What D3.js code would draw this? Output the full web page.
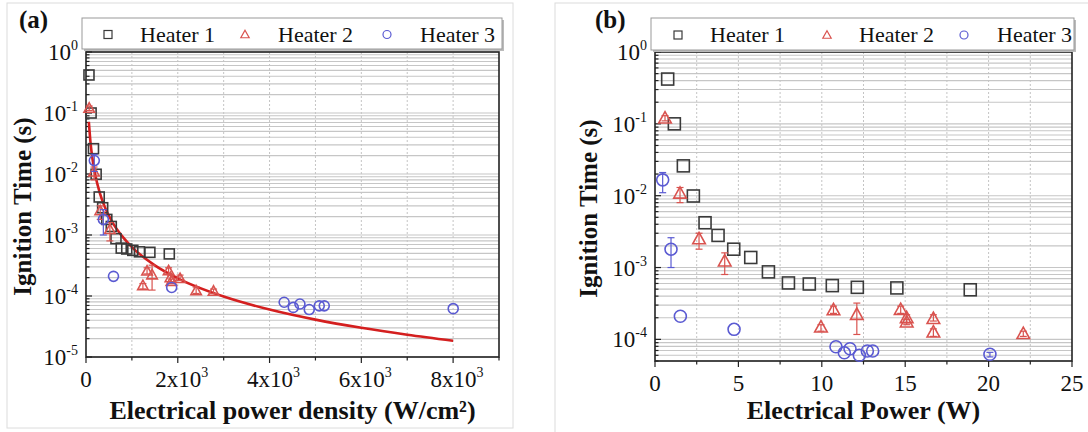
<!DOCTYPE html>
<html><head><meta charset="utf-8">
<script src="https://cdn.jsdelivr.net/npm/d3@7"></script>
<style>
body{margin:0;background:#fff}
svg{display:block}
text{font-family:"Liberation Serif","Times New Roman",serif;fill:#111}
</style>
</head><body>
<svg id="c" width="1088" height="432"></svg>
<script>
// ---------- DATA ----------
const seriesNames = ["Heater 1", "Heater 2", "Heater 3"];

// Panel (a): electrical power density (W/cm2) vs ignition time (s)
const densityH1 = [65, 111, 163, 221, 288, 363, 453, 551, 653, 768, 888, 1020, 1165, 1392, 1815];
const timeAH1   = [0.42, 0.10, 0.026, 0.0099, 0.0042, 0.0028, 0.0018, 0.00138, 0.00087, 0.00061, 0.00059, 0.00056, 0.00053, 0.00052, 0.00049];
const densityH2 = [70, 175, 310, 520, 1240, 1330, 1440, 1800, 1840, 1860, 2050, 2400, 2780];
const timeAH2   = [0.12, 0.0108, 0.0025, 0.00123, 0.000148, 0.000257, 0.000222, 0.00026, 0.0002, 0.000174, 0.000194, 0.000122, 0.00012];
const errLoAH2  = [0.11, 0.008, 0.0018, 0.0008, 0.00013, 0.00023, 0.000125, 0.00023, 0.00017, 0.00016, 0.00018, 0.00011, 0.00011];
const errHiAH2  = [0.13, 0.013, 0.0030, 0.0016, 0.00016, 0.00029, 0.00032, 0.00029, 0.00022, 0.00019, 0.00022, 0.00014, 0.00013];
const densityH3 = [181, 378, 599, 1867, 4318, 4517, 4662, 4865, 5083, 5192, 8002];
const timeAH3   = [0.0166, 0.0018, 0.00021, 0.000138, 0.000079, 0.000065, 0.000074, 0.00006, 0.000069, 0.000069, 0.000062];
const errLoAH3  = [0.011, 0.001, 0.00021, 0.000138, 0.000079, 0.000065, 0.000074, 0.00006, 0.000069, 0.000069, 0.000062];
const errHiAH3  = [0.021, 0.0026, 0.00021, 0.000138, 0.000079, 0.000065, 0.000074, 0.00006, 0.000069, 0.000069, 0.000062];
// fitted curve in panel (a)
const fitDensity = [62, 100, 150, 200, 300, 400, 600, 800, 1000, 1500, 2000, 3000, 4000, 5000, 6000, 7000, 8000];
const fitTime    = [0.0716, 0.0318, 0.016, 0.00977, 0.00491, 0.0030, 0.00151, 0.00093, 0.000634, 0.000318, 0.000195, 0.000098, 0.00006, 0.000041, 0.0000301, 0.0000232, 0.0000185];

// Panel (b): electrical power (W) vs ignition time (s)
const powerH1 = [0.76, 1.16, 1.7, 2.3, 3.0, 3.78, 4.72, 5.74, 6.8, 8.0, 9.25, 10.63, 12.13, 14.5, 18.9];
const timeH1  = [0.42, 0.10, 0.026, 0.0099, 0.0042, 0.0028, 0.0018, 0.00138, 0.00087, 0.00061, 0.00059, 0.00056, 0.00053, 0.00052, 0.00049];

const powerH2 = [0.6, 1.5, 2.64, 4.18, 9.95, 10.7, 12.1, 14.73, 15.09, 15.09, 16.69, 16.69, 22.08];
const timeH2  = [0.12, 0.0108, 0.0025, 0.00123, 0.000148, 0.000257, 0.000222, 0.00026, 0.0002, 0.000174, 0.000194, 0.000126, 0.00012];
const errLoH2 = [0.11, 0.008, 0.0018, 0.0008, 0.00013, 0.00023, 0.000117, 0.00023, 0.00017, 0.00016, 0.00018, 0.00011, 0.00011];
const errHiH2 = [0.13, 0.013, 0.0030, 0.0016, 0.00016, 0.00029, 0.00032, 0.00029, 0.00022, 0.00019, 0.00022, 0.00014, 0.00013];

const powerH3 = [0.46, 0.96, 1.52, 4.74, 10.85, 11.35, 11.69, 12.25, 12.73, 13.05, 20.08];
const timeH3  = [0.0166, 0.0018, 0.00021, 0.000138, 0.000079, 0.000065, 0.000074, 0.00006, 0.000069, 0.000069, 0.000062];
const errLoH3 = [0.011, 0.001, 0.00021, 0.000138, 0.000079, 0.000065, 0.000074, 0.00006, 0.000069, 0.000069, 0.000057];
const errHiH3 = [0.021, 0.0026, 0.00021, 0.000138, 0.000079, 0.000065, 0.000074, 0.00006, 0.000069, 0.000069, 0.000066];

// axis ticks
const xTicksA = [0, 2000, 4000, 6000, 8000];
const xTickLabelsA = [["0",""], ["2x10","3"], ["4x10","3"], ["6x10","3"], ["8x10","3"]];
const xTicksB = [0, 5, 10, 15, 20, 25];
const xTickLabelsB = [["0",""], ["5",""], ["10",""], ["15",""], ["20",""], ["25",""]];
const yTicks = [1, 0.1, 0.01, 0.001, 0.0001, 0.00001];
const yTickExps = ["0", "-1", "-2", "-3", "-4", "-5"];

// ---------- DRAW ----------
const svg = d3.select("#c");
const colors = ["#3a3a3a", "#d9534f", "#5a5ad2"];

function marker(g, type, x, y, s, color, sw) {
  if (type === 0) {
    g.append("rect").attr("x", x - s/2).attr("y", y - s/2).attr("width", s).attr("height", s)
      .attr("fill", "none").attr("stroke", color).attr("stroke-width", sw);
  } else if (type === 1) {
    const h = s * 0.9;
    g.append("path").attr("d", `M${x},${y - h*0.6}L${x + s/2*1.05},${y + h*0.45}L${x - s/2*1.05},${y + h*0.45}Z`)
      .attr("fill", "none").attr("stroke", color).attr("stroke-width", sw);
  } else {
    g.append("circle").attr("cx", x).attr("cy", y).attr("r", s/2)
      .attr("fill", "none").attr("stroke", color).attr("stroke-width", sw);
  }
}

function panel(cfg) {
  const g = svg.append("g");
  g.append("rect").attr("x", cfg.frame[0]).attr("y", cfg.frame[1]).attr("width", cfg.frame[2]).attr("height", cfg.frame[3])
    .attr("fill", "none").attr("stroke", "#dcdcdc").attr("stroke-width", 1);

  const x = d3.scaleLinear().domain(cfg.xDomain).range([cfg.left, cfg.right]);
  const y = d3.scaleLog().domain(cfg.yDomain).range([cfg.bottom, cfg.top]);

  const minorY = [];
  for (let e = -6; e <= 0; e++) for (let k = 1; k <= 9; k++) {
    const v = k * Math.pow(10, e);
    if (v >= cfg.yDomain[0] * 0.999 && v <= cfg.yDomain[1] * 1.001) minorY.push(v);
  }
  const minorX = d3.range(cfg.xDomain[0], cfg.xDomain[1] + 1e-9, cfg.xMinorStep);

  g.append("g").selectAll("line").data(minorY).join("line")
    .attr("x1", cfg.left).attr("x2", cfg.right)
    .attr("y1", d => y(d)).attr("y2", d => y(d))
    .attr("stroke", "#c6c6c6").attr("stroke-width", 1.1);
  g.append("g").selectAll("line").data(minorX.slice(1, -1)).join("line")
    .attr("x1", d => x(d)).attr("x2", d => x(d))
    .attr("y1", cfg.top).attr("y2", cfg.bottom)
    .attr("stroke", "#c4c4c4").attr("stroke-width", 1).attr("stroke-dasharray", "2,2");

  const ax = g.append("g");
  ax.selectAll(".ymin").data(minorY).join("line")
    .attr("x1", cfg.left).attr("x2", d => cfg.left + (yTicks.includes(d) ? 6 : 3.5))
    .attr("y1", d => y(d)).attr("y2", d => y(d)).attr("stroke", "#222").attr("stroke-width", 1.2);
  ax.selectAll(".xmin").data(minorX).join("line")
    .attr("x1", d => x(d)).attr("x2", d => x(d))
    .attr("y1", cfg.bottom).attr("y2", d => cfg.bottom + (cfg.xTicks.includes(d) ? 6 : 3.5))
    .attr("stroke", "#222").attr("stroke-width", 1.2);

  g.append("rect").attr("x", cfg.left).attr("y", cfg.top)
    .attr("width", cfg.right - cfg.left).attr("height", cfg.bottom - cfg.top)
    .attr("fill", "none").attr("stroke", "#222").attr("stroke-width", 1.6);

  yTicks.forEach((v, i) => {
    if (v < cfg.yDomain[0] * 0.999) return;
    const t = g.append("text").attr("x", cfg.left - 8).attr("y", y(v) + 8)
      .attr("text-anchor", "end").attr("font-size", 23);
    t.append("tspan").text("10");
    t.append("tspan").attr("dy", -10).attr("font-size", 14).text(yTickExps[i]);
  });
  cfg.xTicks.forEach((v, i) => {
    const lab = cfg.xLabels[i];
    const t = g.append("text").attr("x", x(v) + (lab[1] ? 4 : 0)).attr("y", cfg.bottom + 30)
      .attr("text-anchor", "middle").attr("font-size", 23);
    t.append("tspan").text(lab[0]);
    if (lab[1]) t.append("tspan").attr("dy", -10).attr("font-size", 14).text(lab[1]);
  });

  g.append("text").attr("x", (cfg.left + cfg.right) / 2).attr("y", 419)
    .attr("text-anchor", "middle").attr("font-size", 26).attr("font-weight", "bold").text(cfg.xTitle);
  g.append("text").attr("transform", `translate(${cfg.yTitleX},${(cfg.top + cfg.bottom) / 2 + 2}) rotate(-90)`)
    .attr("text-anchor", "middle").attr("font-size", 25).attr("font-weight", "bold").text("Ignition Time (s)");
  g.append("text").attr("x", cfg.tagX).attr("y", 28).attr("font-size", 25).attr("font-weight", "bold").text(cfg.tag);

  if (cfg.fit) {
    const line = d3.line().x(d => x(d[0])).y(d => y(d[1])).curve(d3.curveMonotoneX);
    g.append("path").attr("d", line(cfg.fit)).attr("fill", "none")
      .attr("stroke", "#d41f1f").attr("stroke-width", 2.6);
  }

  [0, 1, 2].forEach(si => {
    const s = cfg.series[si];
    const sg = g.append("g");
    s.x.forEach((xv, i) => {
      const cx = x(xv), cy = y(s.y[i]);
      if (s.lo && s.hi && (s.hi[i] > s.y[i] * 1.02 || s.lo[i] < s.y[i] * 0.98)) {
        sg.append("line").attr("x1", cx).attr("x2", cx).attr("y1", y(s.hi[i])).attr("y2", y(s.lo[i]))
          .attr("stroke", colors[si]).attr("stroke-width", 1.2);
        [s.hi[i], s.lo[i]].forEach(v => sg.append("line").attr("x1", cx - 3.5).attr("x2", cx + 3.5)
          .attr("y1", y(v)).attr("y2", y(v)).attr("stroke", colors[si]).attr("stroke-width", 1.2));
      }
      marker(sg, si, cx, cy, cfg.msize, colors[si], 1.6);
    });
  });

  const L = cfg.legend;
  g.append("rect").attr("x", L.x + 2).attr("y", L.y + 2).attr("width", L.w).attr("height", L.h).attr("fill", "#bbb");
  g.append("rect").attr("x", L.x).attr("y", L.y).attr("width", L.w).attr("height", L.h)
    .attr("fill", "#fff").attr("stroke", "#999").attr("stroke-width", 1);
  seriesNames.forEach((n, i) => {
    marker(g, i, L.mx[i], L.y + L.h / 2 + 1, 8, colors[i], 1.2);
    g.append("text").attr("x", L.tx[i]).attr("y", L.y + 24).attr("font-size", 22).text(n);
  });
}

panel({
  frame: [7, 3, 506, 425],
  left: 86, right: 499, top: 52, bottom: 357,
  xDomain: [0, 9000], yDomain: [1e-5, 1], xMinorStep: 1000,
  xTicks: xTicksA, xLabels: xTickLabelsA,
  xTitle: "Electrical power density (W/cm²)", yTitleX: 31, tag: "(a)", tagX: 19,
  msize: 10,
  fit: fitDensity.map((d, i) => [d, fitTime[i]]),
  series: [
    {x: densityH1, y: timeAH1},
    {x: densityH2, y: timeAH2, lo: errLoAH2, hi: errHiAH2},
    {x: densityH3, y: timeAH3, lo: errLoAH3, hi: errHiAH3}
  ],
  legend: {x: 82, y: 18, w: 420, h: 31, mx: [108, 245, 387], tx: [140, 278, 420]}
});

panel({
  frame: [555, 3, 540, 430],
  left: 655, right: 1072, top: 52, bottom: 361,
  xDomain: [0, 25], yDomain: [5e-5, 1], xMinorStep: 2.5,
  xTicks: xTicksB, xLabels: xTickLabelsB,
  xTitle: "Electrical Power (W)", yTitleX: 597, tag: "(b)", tagX: 595,
  msize: 12,
  series: [
    {x: powerH1, y: timeH1},
    {x: powerH2, y: timeH2, lo: errLoH2, hi: errHiH2},
    {x: powerH3, y: timeH3, lo: errLoH3, hi: errHiH3}
  ],
  legend: {x: 651, y: 18, w: 423, h: 32, mx: [678, 827, 964], tx: [710, 859, 997]}
});
</script>
</body></html>
